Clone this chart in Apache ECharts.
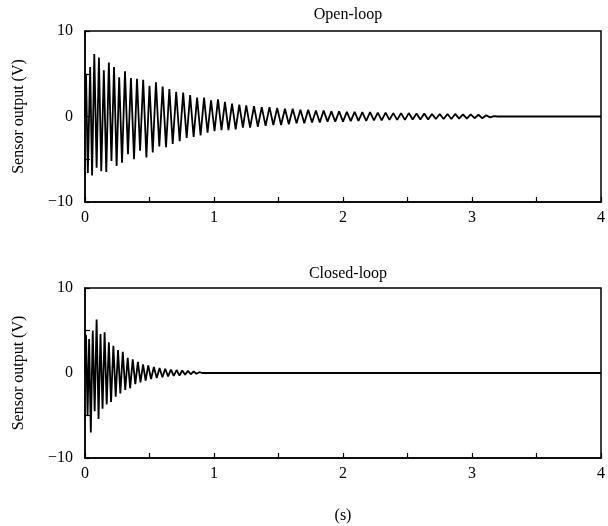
<!DOCTYPE html>
<html>
<head>
<meta charset="utf-8">
<script src="https://cdn.jsdelivr.net/npm/echarts@6/dist/echarts.min.js"></script>
<style>
  html, body { margin: 0; padding: 0; background: #fff; }
  #container { width: 608px; height: 526px; }
</style>
</head>
<body>
<div id="container"></div>
<script>
// open-loop response, peaks and troughs (s, V)
const openTime = [0.000, 0.008, 0.022, 0.040, 0.055, 0.072, 0.090, 0.108, 0.126, 0.146,
	0.165, 0.185, 0.205, 0.225, 0.245, 0.265, 0.287, 0.310, 0.333, 0.356,
	0.380, 0.403, 0.427, 0.451, 0.476, 0.500, 0.525, 0.550, 0.576, 0.602,
	0.628, 0.654, 0.680, 0.707, 0.734, 0.761, 0.788, 0.815, 0.842, 0.869,
	0.896, 0.923, 0.950, 0.977, 1.004, 1.031, 1.058, 1.085, 1.112, 1.140,
	1.168, 1.196, 1.224,
	1.250, 1.280, 1.310, 1.340, 1.370,
	1.400, 1.430, 1.460, 1.490, 1.520, 1.550, 1.580, 1.610, 1.640, 1.670,
	1.700, 1.730, 1.760, 1.790, 1.820, 1.850, 1.880, 1.910, 1.940, 1.970,
	2.000, 2.030, 2.060, 2.090, 2.120, 2.150, 2.180, 2.210, 2.240, 2.270,
	2.300, 2.330, 2.360, 2.390, 2.420, 2.450, 2.480, 2.510, 2.540, 2.570,
	2.600, 2.630, 2.660, 2.690, 2.720, 2.750, 2.780, 2.810, 2.840, 2.870,
	2.900, 2.930, 2.960, 2.990, 3.020, 3.050, 3.080, 3.110, 3.140, 3.170,
	3.200, 4.000];
const openVolt = [0, 5.0, -6.6, 5.8, -6.9, 7.3, -6.0, 6.9, -6.4, 5.4,
	-6.5, 6.3, -5.2, 5.8, -5.8, 4.6, -5.4, 5.3, -4.4, 4.5,
	-5.0, 4.4, -4.0, 4.3, -4.8, 3.6, -4.2, 4.0, -3.5, 3.5,
	-3.6, 3.2, -3.2, 2.9, -2.9, 2.8, -2.5, 2.5, -2.4, 2.2,
	-2.2, 2.2, -1.9, 1.9, -1.7, 2.0, -1.6, 1.7, -1.6, 1.5,
	-1.5, 1.4, -1.3,
	1.3, -1.3, 1.2, -1.2, 1.1,
	-1.1, 1.1, -1.0, 1.0, -1.0, 0.9, -0.9, 0.9, -0.8, 0.8,
	-0.8, 0.8, -0.7, 0.7, -0.7, 0.7, -0.6, 0.6, -0.6, 0.6,
	-0.6, 0.55, -0.55, 0.55, -0.5, 0.5, -0.5, 0.5, -0.45, 0.45,
	-0.45, 0.45, -0.4, 0.4, -0.4, 0.4, -0.4, 0.4, -0.35, 0.35,
	-0.35, 0.35, -0.35, 0.3, -0.3, 0.3, -0.3, 0.3, -0.3, 0.3,
	-0.25, 0.25, -0.25, 0.25, -0.2, 0.2, -0.2, 0.15, -0.1, 0.05,
	0, 0];

// closed-loop response
const closedTime = [0.000, 0.008, 0.020, 0.032, 0.045, 0.060, 0.075, 0.090, 0.105, 0.120,
	0.136, 0.152, 0.168, 0.185, 0.202, 0.220, 0.238, 0.256, 0.274, 0.293,
	0.312, 0.331, 0.350, 0.370, 0.390, 0.410, 0.430, 0.450, 0.470, 0.490,
	0.512, 0.534, 0.556, 0.578, 0.600, 0.622, 0.644, 0.666, 0.688, 0.710,
	0.732, 0.754, 0.776, 0.798, 0.820, 0.842, 0.864, 0.886, 0.910, 4.000];
const closedVolt = [0, 4.5, -5.0, 4.0, -7.0, 5.0, -4.5, 6.3, -5.4, 4.6,
	-4.2, 4.8, -3.7, 3.6, -3.4, 3.2, -2.8, 2.7, -2.4, 2.5,
	-2.0, 1.8, -1.8, 1.6, -1.3, 1.3, -1.1, 1.0, -0.9, 0.9,
	-0.7, 0.7, -0.6, 0.6, -0.5, 0.5, -0.4, 0.4, -0.35, 0.35,
	-0.3, 0.3, -0.2, 0.25, -0.15, 0.2, -0.1, 0.1, 0, 0];

const panelTitles = ['Open-loop', 'Closed-loop'];
const xTicks = [0, 1, 2, 3, 4];
const yTicks = [-10, 0, 10];

const font = 'Liberation Serif, Times New Roman, serif';
const dom = document.getElementById('container');
const myChart = echarts.init(dom);

const grids = [
	{ left: 85, top: 31, width: 517, height: 171 },
	{ left: 85, top: 288, width: 517, height: 170 },
];

const xAxisFor = (i) => ({
	type: 'value',
	gridIndex: i,
	min: 0,
	max: 4,
	interval: 0.5,
	name: i === 1 ? '(s)' : '',
	nameLocation: 'middle',
	nameGap: 50,
	nameTextStyle: { color: '#000', fontFamily: font, fontSize: 16 },
	axisLine: { show: true, onZero: false, lineStyle: { color: '#000', width: 1.5 } },
	axisTick: { show: true, inside: true, length: 5, lineStyle: { color: '#000', width: 1.2 } },
	axisLabel: {
		color: '#000', fontFamily: font, fontSize: 16, margin: 8,
		formatter: (v) => (xTicks.includes(v) ? String(v) : ''),
	},
	splitLine: { show: false },
});

const yAxisFor = (i) => ({
	type: 'value',
	gridIndex: i,
	min: -10,
	max: 10,
	interval: 5,
	name: 'Sensor output (V)',
	nameLocation: 'middle',
	nameGap: 58,
	nameRotate: 90,
	nameTextStyle: { color: '#000', fontFamily: font, fontSize: 16 },
	axisLine: { show: true, onZero: false, lineStyle: { color: '#000', width: 1.5 } },
	axisTick: { show: true, inside: true, length: 5, lineStyle: { color: '#000', width: 1.2 } },
	axisLabel: {
		color: '#000', fontFamily: font, fontSize: 16, margin: 12,
		formatter: (v) => (yTicks.includes(v) ? String(v).replace('-', '\u2212') : ''),
	},
	splitLine: { show: false },
});

const toPairs = (ts, vs) => ts.map((t, k) => [t, vs[k]]);

const option = {
	animation: false,
	backgroundColor: '#fff',
	title: panelTitles.map((text, i) => ({
		text,
		left: 343,
		top: i === 0 ? 2 : 261,
		textAlign: 'center',
		textStyle: { color: '#000', fontFamily: font, fontSize: 16, fontWeight: 'normal' },
	})),
	grid: grids.map((g) => ({ ...g, show: true, borderColor: '#000', borderWidth: 1.5, backgroundColor: 'transparent' })),
	xAxis: [xAxisFor(0), xAxisFor(1)],
	yAxis: [yAxisFor(0), yAxisFor(1)],
	series: [
		{
			type: 'line', xAxisIndex: 0, yAxisIndex: 0,
			data: toPairs(openTime, openVolt),
			showSymbol: false,
			lineStyle: { color: '#000', width: 1.8 },
		},
		{
			type: 'line', xAxisIndex: 1, yAxisIndex: 1,
			data: toPairs(closedTime, closedVolt),
			showSymbol: false,
			lineStyle: { color: '#000', width: 1.8 },
		},
	],
};

myChart.setOption(option);
</script>
</body>
</html>
